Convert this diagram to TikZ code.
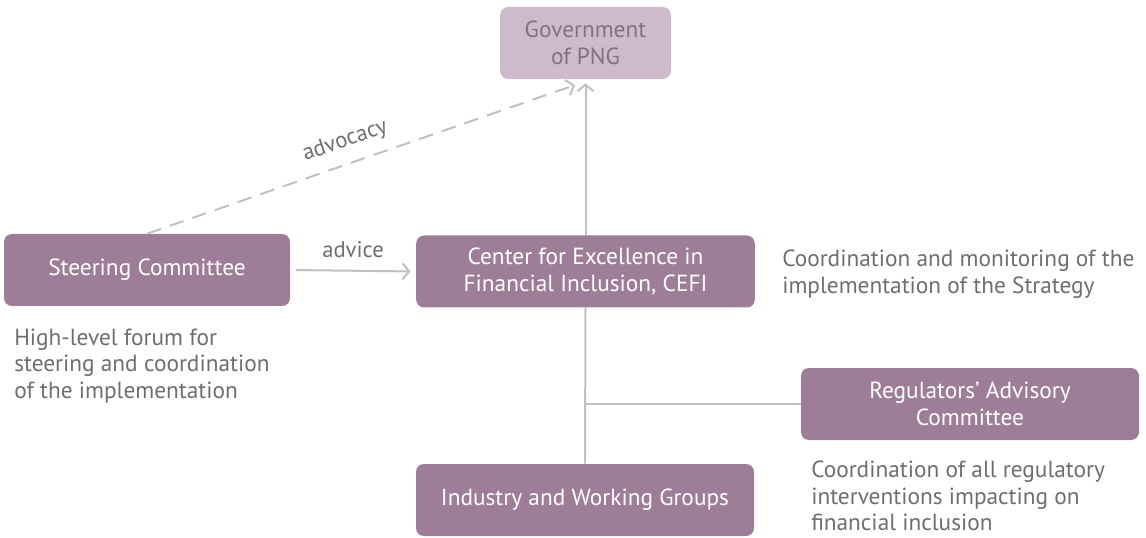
\documentclass[tikz,border=0pt]{standalone}
\usepackage{fontspec}
\setmainfont{PT Sans}
\usetikzlibrary{arrows.meta}
\definecolor{plum}{HTML}{9E7D98}
\definecolor{lilac}{HTML}{CDBACB}
\definecolor{ink}{HTML}{6E6E6E}
\definecolor{ghost}{HTML}{7F747E}
\definecolor{wire}{HTML}{C0C0C0}
\tikzset{
  box/.style={fill=plum, text=white, rounded corners=6pt, align=center, minimum height=54pt,
    inner sep=0pt, font=\fontsize{17.5}{20.5}\selectfont},
  boxlight/.style={box, fill=lilac, text=ghost},
  note/.style={text=ink, align=left, anchor=west, inner sep=0pt, font=\fontsize{17.5}{20}\selectfont},
  link/.style={draw=wire, line width=1.5pt},
  arr/.style={link, -{Straight Barb[length=5pt,width=12pt]}},
  lab/.style={text=ink, font=\fontsize{17}{18}\selectfont},
}
\begin{document}
\begin{tikzpicture}[x=0.75pt,y=-0.75pt]
  \useasboundingbox (0,0) rectangle (1146,538);
  % boxes
  \node[boxlight, minimum width=128pt] (gov) at (585.5,43) {Government\\of PNG};
  \node[box, minimum width=214.5pt] (steer) at (147,270) {Steering Committee};
  \node[box, minimum width=254pt] (cefi) at (585.5,271.5) {Center for Excellence in\\Financial Inclusion, CEFI};
  \node[box, minimum width=253.5pt] (reg) at (970,404) {Regulators’ Advisory\\Committee};
  \node[box, minimum width=253.5pt] (ind) at (585,500) {Industry and Working Groups};
  % notes
  \node[note] (steerNote) at (14,366) {High-level forum for\\steering and coordination\\of the implementation};
  \node[note] (cefiNote) at (782,274) {Coordination and monitoring of the\\implementation of the Strategy};
  \node[note] (regNote) at (811,496) {Coordination of all regulatory\\interventions impacting on\\financial inclusion};
  % connectors
  \coordinate (advEnd) at (575,85);
  \draw[arr, dash pattern=on 11pt off 7pt] (steer.north) -- (advEnd)
    node[lab, pos=0.48, above=5pt, sloped] {advocacy};
  \draw[arr, shorten <=4pt, shorten >=4pt] (steer.east) -- (cefi.west)
    node[lab, midway, above=6pt] {advice};
  \draw[arr, shorten >=3pt] (cefi.north) -- (gov.south);
  \draw[link] (cefi.south) -- (ind.north);
  \coordinate (junc) at (cefi.south |- reg.west);
  \draw[link] (junc) -- (reg.west);
\end{tikzpicture}
\end{document}
